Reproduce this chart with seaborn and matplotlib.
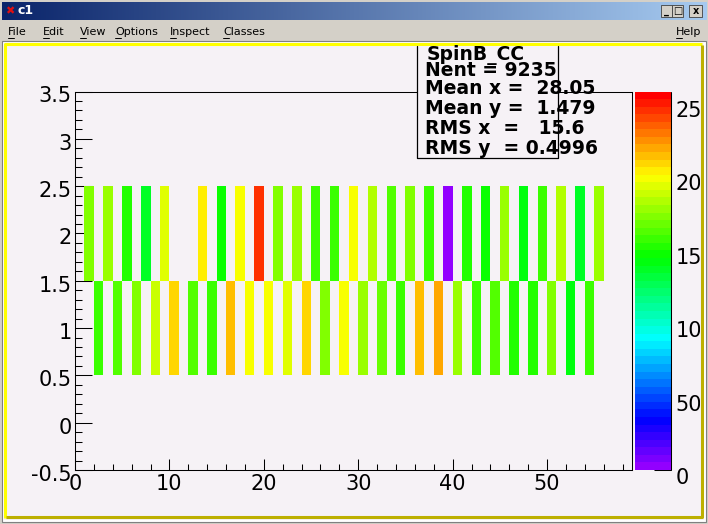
import colorsys
import numpy as np
import pandas as pd
import matplotlib
matplotlib.use("Agg")
import matplotlib.pyplot as plt
from matplotlib.colors import ListedColormap
from matplotlib.lines import Line2D
from matplotlib.patches import Rectangle
from matplotlib.ticker import MultipleLocator
from matplotlib.transforms import Bbox, TransformedBbox, ScaledTranslation
import seaborn as sns

# bin contents read off the canvas (x = low edge of a 1-wide bin)
# lower row: y bin centred on 1
lower_x = list(range(2, 55, 2))
lower_counts = [157, 162, 173, 188, 209, 162, 157, 214, 198, 198, 193, 209, 173, 198,
                178, 167, 157, 214, 219, 178, 157, 162, 152, 152, 173, 142, 157]
# upper row: y bin centred on 2 (bin 11 is empty)
upper_x = [1, 3, 5, 7, 9] + list(range(13, 56, 2))
upper_counts = [173, 178, 152, 136, 193, 203, 147, 198, 245, 173, 178, 157, 157, 198,
                183, 162, 173, 157, 3, 152, 147, 178, 142, 157, 183, 136, 178]

hist_name = "SpinB_CC"
stats_lines = ["Nent = 9235", "Mean x =  28.05", "Mean y =  1.479",
               "RMS x  =   15.6", "RMS y  = 0.4996"]
menu_items = ["File", "Edit", "View", "Options", "Inspect", "Classes"]
menu_pos = [8, 43, 80, 115, 170, 223]
cbar_ticks = [0, 50, 100, 150, 200, 250]
z_max = 257.5

W, H = 708, 524
CANVAS = "#f6f2f6"
GREY = "#d4d0c8"


def fx(x):
    return x / W


def fy(y):
    return 1 - y / H


def rect(x0, y0, x1, y1, **kw):
    fig.add_artist(Rectangle((fx(x0), fy(y1)), (x1 - x0) / W, (y1 - y0) / H,
                             transform=fig.transFigure, **kw))


def line(xs, ys, **kw):
    fig.add_artist(Line2D([fx(v) for v in xs], [fy(v) for v in ys],
                          transform=fig.transFigure, **kw))


sns.set_style("ticks")
plt.rcParams["font.family"] = ["DejaVu Sans"]
for key in ["text.color", "xtick.color", "ytick.color", "axes.labelcolor", "axes.edgecolor"]:
    plt.rcParams[key] = "black"

fig = plt.figure(figsize=(W / 100, H / 100), dpi=100)
fig.patch.set_facecolor(GREY)

# --- window chrome ---
ax_t = fig.add_axes([fx(2), fy(20), fx(704), 18 / H])
grad = np.linspace(0, 1, 256)[None, :, None]
c0 = np.array([10, 36, 106]) / 255
c1 = np.array([166, 202, 240]) / 255
ax_t.imshow(c0 + (c1 - c0) * grad, aspect="auto", extent=(0, 1, 0, 1))
ax_t.axis("off")
fig.text(fx(5), fy(11), "\u2716", color="#e01010", fontsize=8, va="center")
fig.text(fx(18), fy(11), "c1", color="white", fontsize=9, fontweight="bold", va="center")
for bx, glyph in [(661, "_"), (672, "\u25a1"), (689, "x")]:
    rect(bx, 5, bx + 11 if bx != 689 else bx + 13, 17, facecolor=GREY, edgecolor="#404040", lw=0.6)
    fig.text(fx(bx + (6.5 if bx == 689 else 5.5)), fy(11), glyph, fontsize=7,
             fontweight="bold", ha="center", va="center")

for name, px in zip(menu_items + ["Help"], menu_pos + [676]):
    fig.text(fx(px), fy(32), name, fontsize=8, va="center")
    line([px, px + 6], [38, 38], color="black", lw=0.7)

# canvas frame (kept below the plot axes)
rect(2, 41, 706, 522, facecolor="white", edgecolor="#808080", lw=0.8, zorder=-10)
rect(4, 43, 704, 520, facecolor=CANVAS, edgecolor="none", zorder=-9)
line([5, 5, 702], [518, 44, 44], color="#ffff00", lw=2.2, solid_capstyle="butt", zorder=-8)
line([6, 702, 702], [517, 517, 45], color="#bdb000", lw=2.2, solid_capstyle="butt", zorder=-8)

# --- the 2D histogram ---
ax = fig.add_axes([fx(75), fy(470), (632 - 75) / W, (470 - 91.5) / H])
cax = fig.add_axes([fx(635), fy(470), 35.5 / W, (470 - 91.5) / H])
ax.set_facecolor(CANVAS)

root_colors = [colorsys.hls_to_rgb((280 - (i + 1) * 5.6) / 360, 0.5, 1.0) for i in range(50)]
root_cmap = ListedColormap(root_colors)

df = pd.DataFrame({
    "x": np.concatenate([np.array(lower_x) + 0.5, np.array(upper_x) + 0.5]),
    "y": [1.0] * len(lower_x) + [2.0] * len(upper_x),
    "w": lower_counts + upper_counts,
})
sns.histplot(data=df, x="x", y="y", weights="w", binwidth=1,
             binrange=((0, 59), (-0.5, 3.5)), cmap=root_cmap, vmin=0, vmax=z_max,
             cbar=True, cbar_ax=cax, ax=ax)

ax.set_xlim(0, 59)
ax.set_ylim(-0.5, 3.5)
ax.set_xlabel("")
ax.set_ylabel("")
for sp in ax.spines.values():
    sp.set_visible(True)
    sp.set_color("black")
    sp.set_linewidth(0.75)
ax.xaxis.set_major_locator(MultipleLocator(10))
ax.xaxis.set_minor_locator(MultipleLocator(2))
ax.yaxis.set_major_locator(MultipleLocator(0.5))
ax.yaxis.set_minor_locator(MultipleLocator(0.1))
ax.yaxis.set_major_formatter(plt.FuncFormatter(lambda v, p: f"{v:g}"))
ax.tick_params(axis="x", which="major", direction="in", length=7.7, width=0.75,
               labelsize=15, pad=3)
ax.tick_params(axis="x", which="minor", direction="in", length=4.1, width=0.75)
ax.tick_params(axis="y", which="major", direction="in", length=12, width=0.75,
               labelsize=15, pad=2.5)
ax.tick_params(axis="y", which="minor", direction="in", length=5, width=0.75)
down3 = ScaledTranslation(0, -3 / 100, fig.dpi_scale_trans)
for lbl in ax.get_yticklabels():
    lbl.set_transform(lbl.get_transform() + down3)

cbar = ax.collections[0].colorbar
cbar.outline.set_visible(False)
cbar.set_ticks(cbar_ticks)
cbar.ax.yaxis.set_minor_locator(MultipleLocator(25))
cbar.ax.tick_params(which="major", direction="in", length=12, width=0.75,
                    labelsize=15, pad=3.5, right=True, left=False)
cbar.ax.tick_params(which="minor", direction="in", length=6, width=0.75,
                    right=True, left=False)
cax.plot([1, 1], [0, 1], transform=cax.transAxes, color="black", lw=0.75, clip_on=False)
clip = TransformedBbox(Bbox.from_extents(0, 0, fx(700), 1), fig.transFigure)
down6 = ScaledTranslation(0, -6 / 100, fig.dpi_scale_trans)
for lbl in cbar.ax.get_yticklabels():
    lbl.set_transform(lbl.get_transform() + down6)
    lbl.set_clip_on(True)
    lbl.set_clip_box(clip)

# --- stats box ---
rect(417, 46, 558, 158, facecolor=CANVAS, edgecolor="none", zorder=5)
line([417, 417, 558, 558], [46, 158, 158, 46], color="black", lw=0.9, zorder=7)
ys = [71, 89, 108.5, 128.5, 148.5]
fig.text(fx(427), fy(55), hist_name, fontsize=13.5, fontweight="bold", va="center", zorder=6)
for txt, yy in zip(stats_lines, ys):
    fig.text(fx(425), fy(yy), txt, fontsize=13.5, fontweight="bold", va="center", zorder=6)

fig.savefig("out.png", dpi=100, facecolor=fig.get_facecolor())
